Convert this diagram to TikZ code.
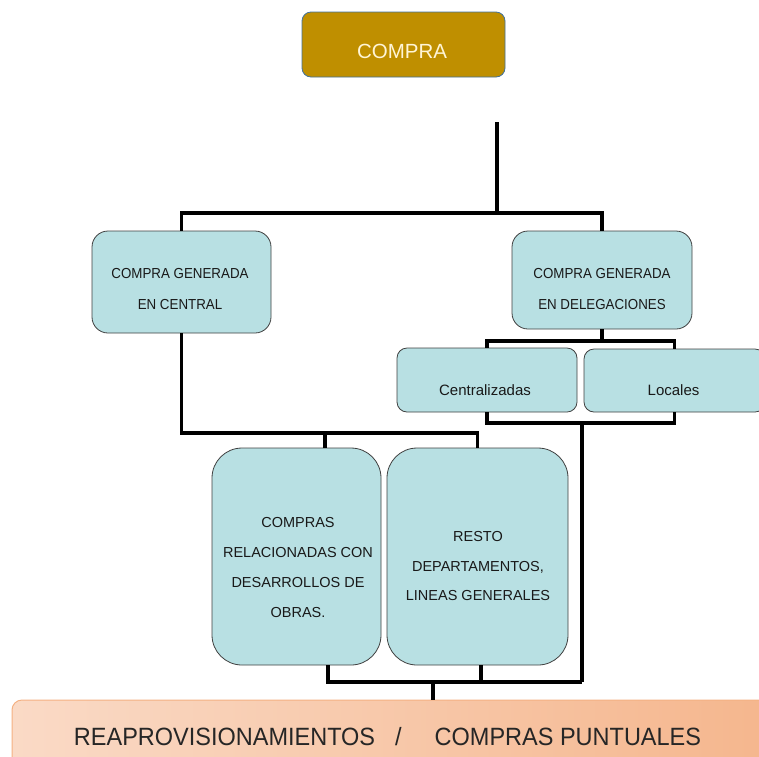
\documentclass[tikz,border=0pt]{standalone}
\usepackage{fontspec}
\setmainfont{Liberation Sans}
\newfontfamily\barfont[FakeStretch=0.94]{Liberation Sans}
\newfontfamily\smallfont[FakeStretch=0.92]{Liberation Sans}
\usetikzlibrary{calc}
\definecolor{gold}{HTML}{BF8F00}
\definecolor{goldedge}{HTML}{41719C}
\definecolor{cream}{HTML}{FFF5D6}
\definecolor{tealfill}{HTML}{B8E0E3}
\definecolor{boxedge}{HTML}{404040}
\definecolor{peachA}{HTML}{F4B183}
\definecolor{peachL}{HTML}{FADAC6}
\definecolor{peachM}{HTML}{FCE6DA}
\definecolor{peachR}{HTML}{F5B68D}
\definecolor{bartext}{HTML}{262626}
\begin{document}
\begin{tikzpicture}[x=1pt,y=-1pt,
  conn/.style={line width=3.5pt, black},
  tbox/.style={draw=boxedge, line width=0.8pt, fill=tealfill, rounded corners=#1, inner sep=0pt},
  tbox/.default=16pt,
  txt/.style={font=\smallfont\fontsize{14.5}{31}\selectfont, align=center, text=black!90, inner sep=0pt},
  lowtxt/.style={font=\fontsize{14.5}{29.7}\selectfont, align=center, text=black!90, inner sep=0pt},
  subtxt/.style={font=\fontsize{15}{20}\selectfont, text=black!90, inner sep=0pt},
]
\useasboundingbox (0,0) rectangle (759,756);
% boxes
\node[draw=goldedge, line width=0.8pt, fill=gold, rounded corners=9pt, minimum width=203pt, minimum height=65pt] (compra) at (403.5,44.5) {};
\node[font=\fontsize{20.5}{24}\selectfont, text=cream, inner sep=0pt] (compra-t) at (402,51.5) {COMPRA};

\node[tbox, minimum width=179pt, minimum height=102pt] (central) at (181.5,282) {};
\node[txt] (central-t) at (180,289) {COMPRA GENERADA\\EN CENTRAL};

\node[tbox, minimum width=180pt, minimum height=98pt] (deleg) at (602,280) {};
\node[txt] (deleg-t) at (602,289) {COMPRA GENERADA\\EN DELEGACIONES};

\node[tbox=10pt, minimum width=180pt, minimum height=64pt] (centr) at (487,380) {};
\node[subtxt] (centr-t) at (485,390) {Centralizadas};

\node[tbox=10pt, minimum width=181pt, minimum height=63pt] (locales) at (674.5,380.5) {};
\node[subtxt] (locales-t) at (673.5,390) {Locales};

\node[tbox=30pt, minimum width=169pt, minimum height=217pt] (obras) at (296.5,556.5) {};
\node[lowtxt] (obras-t) at (298,567.5) {COMPRAS\\RELACIONADAS CON\\DESARROLLOS DE\\OBRAS.};

\node[tbox=30pt, minimum width=181pt, minimum height=217pt] (resto) at (477.5,556.5) {};
\node[lowtxt] (resto-t) at (478,566) {RESTO\\DEPARTAMENTOS,\\LINEAS GENERALES};

\node[draw=peachA, line width=1pt, rounded corners=10pt, left color=peachL, middle color=peachM, right color=peachR, minimum width=763pt, minimum height=70pt] (reap) at (393.5,735) {};
\node[font=\barfont\fontsize{25}{30}\selectfont, text=bartext, inner sep=0pt] (reap-t) at (387.5,737) {REAPROVISIONAMIENTOS\hspace{20pt}/\hspace{33pt}COMPRAS PUNTUALES};

% junctions
\coordinate (top) at (497,122);
\coordinate (j1) at (497,213);
\coordinate (j2) at (602,341);
\coordinate (j3) at (582,423);
\coordinate (j4) at (582,682);
\coordinate (j5) at (325,433);
\coordinate (j6) at (433,682);

% connectors
\draw[conn] (top) -- (j1);
\draw[conn] (central.north) |- (j1) -| (deleg.north);
\draw[conn] (deleg.south) -- (j2);
\draw[conn] (centr.north) |- (j2) -| (locales.north);
\draw[conn] (centr.south) |- (j3) -| (locales.south);
\draw[conn] (j3) -- (j4);
\draw[conn] (central.south) |- (j5) -| (resto.north);
\draw[conn] (j5) -- (j5 |- obras.north);
\draw[conn] ([xshift=31.5pt]obras.south) |- (j4);
\draw[conn] ([xshift=3.5pt]resto.south) -- ([xshift=3.5pt]resto.south |- j4);
\draw[conn] (j6) -- (j6 |- reap.north);
\end{tikzpicture}
\end{document}
